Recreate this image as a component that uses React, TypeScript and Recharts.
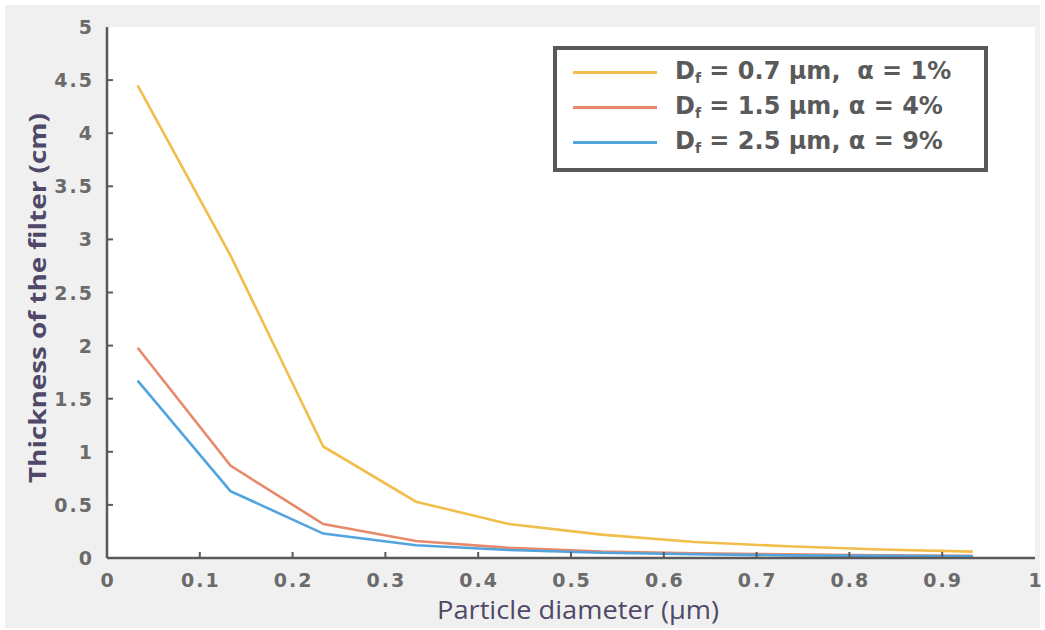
import React from 'react';
import { LineChart, Line, XAxis, YAxis, Legend } from 'recharts';

const particleDiameter = [0.033, 0.133, 0.233, 0.333, 0.433, 0.533, 0.633, 0.733, 0.833, 0.933];
const thicknessDf07 = [4.45, 2.85, 1.05, 0.53, 0.32, 0.22, 0.15, 0.11, 0.08, 0.06];
const thicknessDf15 = [1.98, 0.87, 0.32, 0.16, 0.095, 0.06, 0.045, 0.035, 0.025, 0.02];
const thicknessDf25 = [1.67, 0.63, 0.23, 0.12, 0.075, 0.05, 0.035, 0.025, 0.02, 0.015];

const xTicks = [0, 0.1, 0.2, 0.3, 0.4, 0.5, 0.6, 0.7, 0.8, 0.9, 1];
const yTicks = [0, 0.5, 1, 1.5, 2, 2.5, 3, 3.5, 4, 4.5, 5];

const seriesInfo = [
  { key: 'a', d: '0.7', alpha: '1%', color: '#F1BE4C' },
  { key: 'b', d: '1.5', alpha: '4%', color: '#E88A6A' },
  { key: 'c', d: '2.5', alpha: '9%', color: '#52A4DF' },
];

const data = particleDiameter.map((x, i) => ({
  x,
  a: thicknessDf07[i],
  b: thicknessDf15[i],
  c: thicknessDf25[i],
}));

const AXIS = '#5a5a5a';
const TICKTXT = '#6b6b6b';
const LABEL = '#4f4868';
const tickFont = "'DejaVu Sans', sans-serif";

const fmt = (v: number) => String(Math.round(v * 10) / 10);

const BottomTick = (props: any) => {
  const { x, y, payload } = props;
  const v = payload.value;
  const inner = v > 0.001 && v < 0.999;
  return (
    <g>
      {inner && <line x1={x} x2={x} y1={y} y2={y - 6} stroke={AXIS} strokeWidth={2} />}
      <text x={x + 1} y={y + 29} textAnchor="middle" fill={TICKTXT} fontSize={19} fontWeight="bold" letterSpacing={2} fontFamily={tickFont}>
        {fmt(v)}
      </text>
    </g>
  );
};

const LeftTick = (props: any) => {
  const { x, y, payload } = props;
  const v = payload.value;
  const inner = v > 0.001 && v < 4.999;
  return (
    <g>
      {inner && <line x1={x} x2={x + 6} y1={y} y2={y} stroke={AXIS} strokeWidth={2} />}
      <text x={x - 13} y={y + 7} textAnchor="end" fill={TICKTXT} fontSize={19} fontWeight="bold" letterSpacing={2} fontFamily={tickFont}>
        {fmt(v)}
      </text>
    </g>
  );
};

const TopTick = (props: any) => {
  const { x, y, payload } = props;
  const v = payload.value;
  const inner = v > 0.001 && v < 0.999;
  return inner ? <line x1={x} x2={x} y1={y} y2={y + 6} stroke={AXIS} strokeWidth={2} /> : <g />;
};

const RightTick = (props: any) => {
  const { x, y, payload } = props;
  const v = payload.value;
  const inner = v > 0.001 && v < 4.999;
  return inner ? <line x1={x} x2={x - 6} y1={y} y2={y} stroke={AXIS} strokeWidth={2} /> : <g />;
};

const XLabel = (props: any) => {
  const vb = props.viewBox;
  return (
    <text
      x={vb.x + vb.width / 2 + 7}
      y={vb.y + 61}
      textAnchor="middle"
      fill={LABEL}
      fontSize={25}
      textLength={282}
      lengthAdjust="spacingAndGlyphs"
      fontFamily="'Open Sans', sans-serif"
    >
      Particle diameter (µm)
    </text>
  );
};

const YLabel = () => {
  const cx = 36;
  const cy = 298;
  return (
    <text
      x={cx}
      y={cy}
      transform={`rotate(-90 ${cx} ${cy})`}
      textAnchor="middle"
      dominantBaseline="central"
      fill={LABEL}
      fontSize={24}
      fontWeight="bold"
      textLength={370}
      lengthAdjust="spacingAndGlyphs"
      fontFamily="'Open Sans', sans-serif"
    >
      Thickness of the filter (cm)
    </text>
  );
};

const LegendBox = () => (
  <div
    style={{
      position: 'absolute',
      left: 553,
      top: 46,
      width: 427,
      height: 118,
      border: '4px solid #595959',
      background: '#ffffff',
      boxSizing: 'content-box',
      fontFamily: "'DejaVu Sans', sans-serif",
      fontWeight: 'bold',
      color: '#5a5a5a',
      fontSize: 24,
    }}
  >
    {seriesInfo.map((s, i) => (
      <div key={s.key} style={{ position: 'relative', height: 35, marginTop: i === 0 ? 4 : 0 }}>
        <div style={{ position: 'absolute', left: 16, top: 17, width: 84, height: 3, background: s.color }} />
        <div style={{ position: 'absolute', left: 118, top: 0, lineHeight: '34px', whiteSpace: 'pre' }}>
          D<span style={{ fontSize: 14, position: 'relative', top: 4 }}>f</span>
          {` = ${s.d} µm, ${i === 0 ? ' ' : ''}α = ${s.alpha}`}
        </div>
      </div>
    ))}
  </div>
);

export default function App() {
  return (
    <div style={{ position: 'absolute', left: 0, top: 0, width: 1045, height: 630, background: '#ffffff' }}>
      <div style={{ position: 'absolute', left: 5, top: 5, width: 1035, height: 623, background: '#f0f0f0' }} />
      <div style={{ position: 'absolute', left: 0, top: 0 }}>
        <LineChart
          width={1045}
          height={630}
          data={data}
          margin={{ top: 27, right: 10, bottom: 0, left: 0 }}
        >
          <rect x={107} y={27} width={928} height={531} fill="#ffffff" />
          <XAxis
            dataKey="x"
            type="number"
            domain={[0, 1]}
            ticks={xTicks}
            interval={0}
            height={72}
            tickSize={0}
            tickMargin={0}
            axisLine={{ stroke: AXIS, strokeWidth: 2.5 }}
            tickLine={false}
            tick={<BottomTick />}
            label={<XLabel />}
          />
          <XAxis
            xAxisId="top"
            orientation="top"
            dataKey="x"
            type="number"
            domain={[0, 1]}
            ticks={xTicks}
            interval={0}
            height={0}
            tickSize={0}
            tickMargin={0}
            axisLine={{ stroke: AXIS, strokeWidth: 2.5 }}
            tickLine={false}
            tick={<TopTick />}
          />
          <YAxis
            type="number"
            domain={[0, 5]}
            ticks={yTicks}
            interval={0}
            width={107}
            tickSize={0}
            tickMargin={0}
            axisLine={{ stroke: AXIS, strokeWidth: 2.5 }}
            tickLine={false}
            tick={<LeftTick />}
            label={<YLabel />}
          />
          <YAxis
            yAxisId="right"
            orientation="right"
            type="number"
            domain={[0, 5]}
            ticks={yTicks}
            interval={0}
            width={0}
            tickSize={0}
            tickMargin={0}
            axisLine={{ stroke: AXIS, strokeWidth: 2.5 }}
            tickLine={false}
            tick={<RightTick />}
          />
          {seriesInfo.map((s) => (
            <Line
              key={s.key}
              type="linear"
              dataKey={s.key}
              stroke={s.color}
              strokeWidth={2.6}
              dot={false}
              activeDot={false}
              isAnimationActive={false}
            />
          ))}
          <Legend
            layout="horizontal"
            verticalAlign="middle"
            align="center"
            content={<LegendBox />}
            wrapperStyle={{ position: 'absolute', left: 0, top: 0, width: 0, height: 0 }}
          />
        </LineChart>
      </div>
    </div>
  );
}
